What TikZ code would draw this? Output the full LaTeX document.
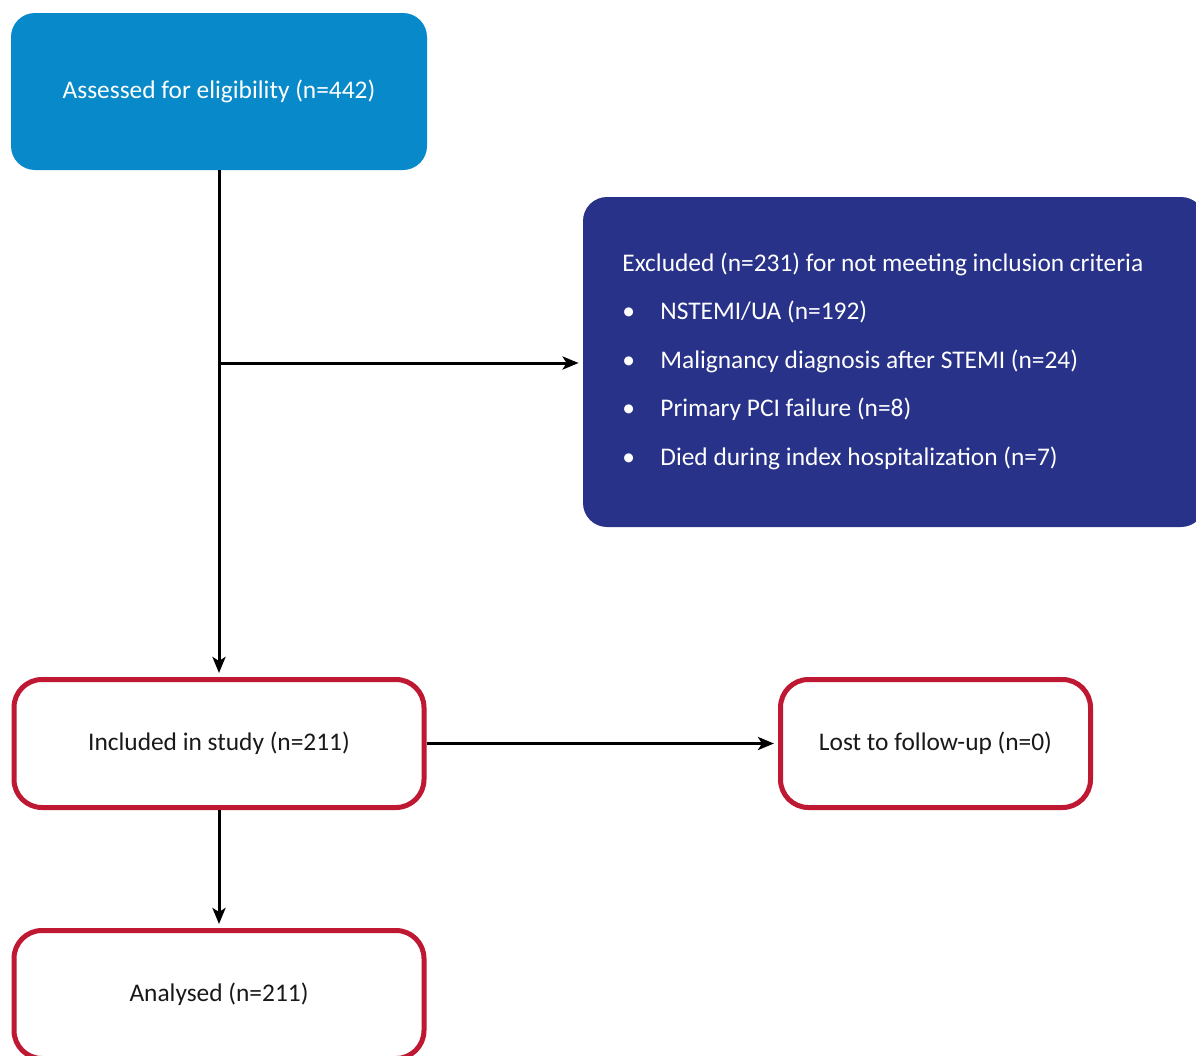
\documentclass[tikz,border=0pt]{standalone}
\usepackage{fontspec}
\setmainfont{Carlito}
\usetikzlibrary{arrows.meta}
\definecolor{topblue}{RGB}{8,137,201}
\definecolor{darkblue}{RGB}{40,50,137}
\definecolor{boxred}{RGB}{190,24,50}
\definecolor{txt}{RGB}{25,25,25}
\begin{document}
\begin{tikzpicture}[x=0.5pt,y=-0.5pt,
  font=\fontsize{12.7pt}{15pt}\selectfont,
  bluebox/.style={fill=topblue,draw=none,rounded corners=12pt,text=white,minimum width=208pt,minimum height=78.5pt,inner sep=0pt},
  exbox/.style={fill=darkblue,draw=none,rounded corners=12pt,minimum width=311pt,minimum height=165pt,inner sep=0pt},
  redbox/.style={draw=boxred,line width=2.5pt,fill=white,rounded corners=14pt,text=txt,minimum height=64pt,inner sep=0pt},
  extext/.style={text=white,anchor=west,inner sep=0pt},
  conn/.style={line width=1.5pt,-{Stealth[length=8pt,width=6.5pt,inset=2pt]},shorten >=2pt}]
\useasboundingbox (0,0) rectangle (1196,1056);
\clip (0,0) rectangle (1196,1056);
\node[bluebox] (assess) at (219,91.5) {Assessed for eligibility (n=442)};
\node[exbox] (excl) at (894,362) {};
\node[extext] (exhead) at (622,264) {Excluded (n=231) for not meeting inclusion criteria};
\node[extext] (b1) at (622,312) {\makebox[19pt][l]{\textbullet}NSTEMI/UA (n=192)};
\node[extext] (b2) at (622,361) {\makebox[19pt][l]{\textbullet}Malignancy diagnosis after STEMI (n=24)};
\node[extext] (b3) at (622,409) {\makebox[19pt][l]{\textbullet}Primary PCI failure (n=8)};
\node[extext] (b4) at (622,458) {\makebox[19pt][l]{\textbullet}Died during index hospitalization (n=7)};
\node[redbox,minimum width=205pt] (incl) at (219,743.5) {Included in study (n=211)};
\node[redbox,minimum width=155pt] (lost) at (935.5,743.5) {Lost to follow-up (n=0)};
\node[redbox,minimum width=205pt] (anal) at (219,994.5) {Analysed (n=211)};
\coordinate (branch) at (219,363);
\draw[conn] (assess.south) -- (incl.north);
\draw[conn] (branch) -- (excl.west |- branch);
\draw[conn] (incl.east) -- (lost.west);
\draw[conn] (incl.south) -- (anal.north);
\end{tikzpicture}
\end{document}
